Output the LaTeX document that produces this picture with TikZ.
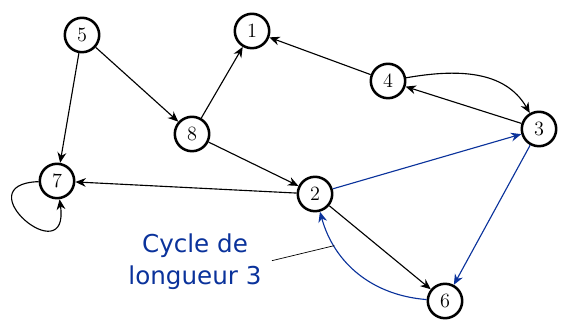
\documentclass[tikz,border=0pt]{standalone}
\usepackage{fontspec}
\newfontfamily\labelfont{DejaVu Sans}
\usetikzlibrary{arrows.meta}
\definecolor{cycleblue}{RGB}{10,50,155}
\begin{document}
\begin{tikzpicture}[x=0.025cm, y=-0.025cm,
    main/.style = {draw, circle, line width=1.8pt, minimum size=0.86cm, inner sep=0pt, font=\Large},
    arc/.style = {-{Stealth[length=2.6mm, width=2.2mm]}, line width=0.8pt},
    cyc/.style = {arc, draw=cycleblue}]
  \useasboundingbox (0,0) rectangle (574,328);
  \node[main] (1) at (252,31) {1};
  \node[main] (2) at (315,194) {2};
  \node[main] (3) at (539,129) {3};
  \node[main] (4) at (388,81) {4};
  \node[main] (5) at (82,35) {5};
  \node[main] (6) at (445,301) {6};
  \node[main] (7) at (57,181) {7};
  \node[main] (8) at (192,134) {8};
  \node[font=\labelfont\fontsize{17.5}{23}\selectfont, text=cycleblue, align=center] (cycle) at (195,262) {Cycle de\\longueur 3};
  \draw[arc] (5) -- (7);
  \draw[arc] (5) -- (8);
  \draw[arc] (8) -- (1);
  \draw[arc] (8) -- (2);
  \draw[arc] (4) -- (1);
  \draw[arc] (4) to[out=10, in=120] (3);
  \draw[arc] (3) -- (4);
  \draw[arc] (2) -- (7);
  \draw[arc] (2) -- (6);
  \draw[arc] (7) to[out=182, in=-82, looseness=7] (7);
  \draw[cyc] (2) -- (3);
  \draw[cyc] (3) -- (6);
  \draw[cyc] (6) to[bend left=35] coordinate[pos=0.76] (onarc) (2);
  \draw[line width=0.5pt, shorten <=4pt] (cycle.east) -- (onarc);
\end{tikzpicture}
\end{document}
